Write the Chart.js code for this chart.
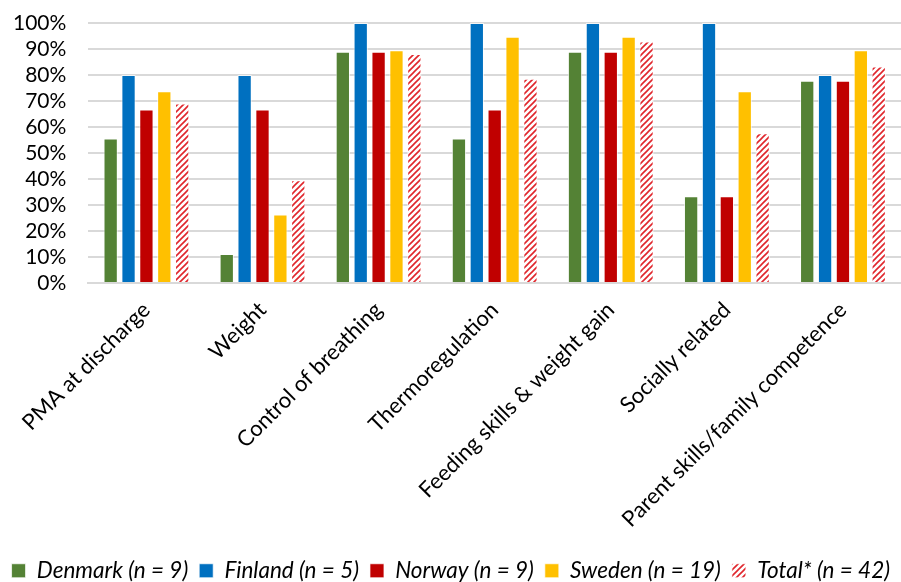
<!DOCTYPE html>
<html>
<head>
<meta charset="utf-8">
<script src="https://cdn.jsdelivr.net/npm/chart.js@4"></script>
<style>
  html, body { margin: 0; padding: 0; background: #fff; }
  #wrap { width: 901px; height: 582px; }
</style>
</head>
<body>
<div id="wrap"><canvas id="chart"></canvas></div>
<script>
const categories = ['PMA at discharge', 'Weight', 'Control of breathing', 'Thermoregulation',
  'Feeding skills & weight gain', 'Socially related', 'Parent skills/family competence'];
const seriesNames = ['Denmark (n = 9)', 'Finland (n = 5)', 'Norway (n = 9)', 'Sweden (n = 19)', 'Total* (n = 42)'];
const denmark = [55.6, 11.1, 88.9, 55.6, 88.9, 33.3, 77.8];
const finland = [80, 80, 100, 100, 100, 100, 80];
const norway = [66.7, 66.7, 88.9, 66.7, 88.9, 33.3, 77.8];
const sweden = [73.7, 26.3, 89.5, 94.7, 94.7, 73.7, 89.5];
const total = [69.0, 39.5, 88.1, 78.6, 92.9, 57.6, 83.3];
const yTicks = [0, 10, 20, 30, 40, 50, 60, 70, 80, 90, 100];

// hatched fill for the Total series
function hatch() {
    const c = document.createElement('canvas');
    c.width = 6; c.height = 6;
    const g = c.getContext('2d');
    g.fillStyle = '#fff';
    g.fillRect(0, 0, 6, 6);
    g.strokeStyle = '#e0262c';
    g.lineWidth = 1.6;
    g.beginPath();
    g.moveTo(-1, 7); g.lineTo(7, -1);
    g.moveTo(-4, 4); g.lineTo(4, -4);
    g.moveTo(2, 10); g.lineTo(10, 2);
    g.stroke();
    return g.createPattern(c, 'repeat');
}
const hatchFill = hatch();

const colors = ['#548235', '#0070C0', '#C00000', '#FFC000', hatchFill];
const values = [denmark, finland, norway, sweden, total];

const ctx = document.getElementById('chart').getContext('2d');
const chart = new Chart(ctx, {
    type: 'bar',
    data: {
        labels: categories,
        datasets: values.map((v, i) => ({
            label: seriesNames[i],
            data: v,
            backgroundColor: colors[i],
            borderColor: 'rgba(255,255,255,0.7)',
            borderWidth: 1,
            categoryPercentage: 0.77,
            barPercentage: 0.8
        }))
    },
    options: {
        responsive: true,
        maintainAspectRatio: false,
        animation: false,
        layout: { padding: { top: 0, left: -9, right: 0, bottom: -10 } },
        plugins: {
            tooltip: { enabled: false },
            legend: {
                position: 'bottom',
                align: 'end',
                labels: {
                    color: '#000',
                    boxWidth: 14,
                    boxHeight: 14,
                    padding: 11,
                    font: { family: 'Lato', size: 22.5, style: 'italic' }
                }
            }
        },
        scales: {
            x: {
                grid: { display: false },
                border: { color: '#d9d9d9', width: 2 },
                afterFit: s => { s.paddingLeft = 0; s.paddingRight = 0; s.height += 10; },
                ticks: {
                    color: '#000',
                    autoSkip: false,
                    minRotation: 45,
                    maxRotation: 45,
                    padding: 6,
                    font: { family: 'Lato', size: 22 }
                }
            },
            y: {
                min: 0,
                max: 100,
                afterBuildTicks: axis => { axis.ticks = yTicks.map(v => ({ value: v })); },
                afterFit: s => { s.paddingTop = 23; },
                grid: { color: '#d9d9d9', lineWidth: 2, drawTicks: false },
                border: { display: false },
                ticks: {
                    color: '#000',
                    autoSkip: false,
                    padding: 22,
                    font: { family: 'Lato', size: 21 },
                    callback: v => v + '%'
                }
            }
        }
    }
});
</script>
</body>
</html>
